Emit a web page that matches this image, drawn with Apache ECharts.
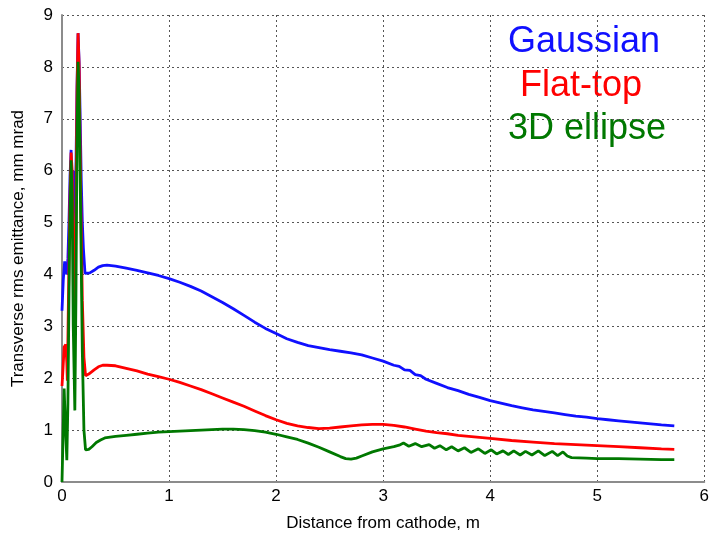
<!DOCTYPE html>
<html>
<head>
<meta charset="utf-8">
<script src="https://cdn.jsdelivr.net/npm/echarts@6/dist/echarts.min.js"></script>
<style>html,body{margin:0;padding:0;background:#fff}#c{width:712px;height:537px}</style>
</head>
<body>
<div id="c"></div>
<script>
var xTicks = [0, 1, 2, 3, 4, 5, 6];
var yTicks = [0, 1, 2, 3, 4, 5, 6, 7, 8, 9];
var seriesNames = ['Gaussian', 'Flat-top', '3D ellipse'];

var gaussian = [
  [0,3.3],[0.012,3.9],[0.025,4.25],[0.035,4.1],[0.045,4.0],[0.055,4.3],[0.065,5.0],[0.075,5.9],[0.085,6.4],
  [0.095,5.6],[0.105,4.8],[0.115,6.0],[0.125,5.2],[0.14,7.6],[0.15,8.65],[0.16,8.1],[0.17,7.0],[0.18,5.8],
  [0.19,5.0],[0.2,4.5],[0.215,4.02],[0.23,4.0],[0.26,4.03],[0.3,4.08],[0.34,4.14],[0.38,4.17],[0.42,4.18],
  [0.5,4.16],[0.6,4.12],[0.7,4.08],[0.8,4.03],[0.9,3.98],[1.0,3.92],[1.1,3.85],[1.2,3.77],[1.3,3.68],[1.4,3.57],
  [1.5,3.46],[1.6,3.34],[1.7,3.21],[1.8,3.08],[1.9,2.96],[2.0,2.86],[2.1,2.76],[2.2,2.69],[2.3,2.63],
  [2.4,2.59],[2.5,2.55],[2.6,2.52],[2.7,2.49],[2.8,2.45],[2.9,2.39],[3.0,2.33],[3.1,2.25],[3.15,2.23],
  [3.2,2.16],[3.25,2.15],[3.3,2.07],[3.35,2.05],[3.4,1.98],[3.5,1.9],[3.6,1.82],[3.7,1.76],[3.8,1.69],
  [3.9,1.63],[4.0,1.57],[4.1,1.52],[4.2,1.47],[4.3,1.43],[4.4,1.39],[4.5,1.36],[4.6,1.33],[4.7,1.3],
  [4.8,1.27],[4.9,1.25],[5.0,1.22],[5.1,1.2],[5.2,1.18],[5.3,1.16],[5.4,1.14],[5.5,1.12],[5.6,1.1],[5.72,1.08]
];

var flatTop = [
  [0,1.85],[0.01,2.2],[0.02,2.6],[0.035,2.65],[0.045,2.3],[0.05,1.95],[0.06,3.5],[0.075,5.5],[0.085,6.35],
  [0.095,6.0],[0.105,4.5],[0.115,2.8],[0.125,4.0],[0.14,7.5],[0.15,8.65],[0.16,8.0],[0.175,5.5],[0.19,3.5],
  [0.205,2.4],[0.22,2.05],[0.25,2.08],[0.3,2.16],[0.34,2.22],[0.38,2.25],[0.42,2.25],[0.5,2.24],[0.6,2.19],
  [0.7,2.14],[0.8,2.08],
  [0.9,2.03],[1.0,1.98],[1.1,1.92],[1.2,1.85],[1.3,1.78],[1.4,1.7],[1.5,1.62],[1.6,1.54],[1.7,1.46],
  [1.8,1.37],[1.9,1.28],[2.0,1.2],[2.1,1.13],[2.2,1.08],[2.3,1.05],[2.4,1.03],[2.5,1.04],[2.6,1.06],
  [2.7,1.08],[2.8,1.1],[2.9,1.11],[3.0,1.11],[3.1,1.09],[3.2,1.06],[3.3,1.02],[3.4,0.98],[3.5,0.95],
  [3.6,0.93],[3.7,0.9],[3.8,0.88],[3.9,0.86],[4.0,0.84],[4.2,0.8],[4.4,0.77],[4.6,0.74],[4.8,0.72],
  [5.0,0.7],[5.2,0.68],[5.4,0.66],[5.6,0.64],[5.72,0.63]
];

var ellipse3D = [
  [0,0],[0.01,0.9],[0.02,1.8],[0.03,1.2],[0.045,0.42],[0.055,1.5],[0.07,4.5],[0.085,6.2],[0.095,5.5],
  [0.105,3.0],[0.12,1.38],[0.13,3.5],[0.14,6.5],[0.15,8.1],[0.16,7.5],[0.175,5.0],[0.19,2.5],[0.205,1.0],
  [0.22,0.62],[0.25,0.63],[0.28,0.68],[0.32,0.76],[0.36,0.81],[0.4,0.85],[0.5,0.88],[0.6,0.9],[0.7,0.92],[0.8,0.94],
  [0.9,0.96],[1.0,0.97],[1.1,0.98],[1.2,0.99],[1.3,1.0],[1.4,1.01],[1.5,1.02],[1.6,1.02],[1.7,1.01],
  [1.8,0.99],[1.9,0.96],[2.0,0.92],[2.1,0.87],[2.2,0.82],[2.3,0.75],[2.4,0.67],[2.5,0.58],[2.6,0.49],
  [2.65,0.45],[2.7,0.44],[2.75,0.46],[2.8,0.5],[2.9,0.58],[3.0,0.64],[3.1,0.68],[3.15,0.71],
  [3.19,0.75],[3.24,0.69],[3.30,0.74],[3.36,0.68],[3.43,0.72],[3.48,0.65],[3.53,0.7],[3.59,0.62],
  [3.64,0.68],[3.70,0.6],[3.76,0.66],[3.82,0.57],[3.89,0.64],[3.95,0.55],[4.01,0.62],[4.06,0.54],
  [4.12,0.6],[4.17,0.53],[4.22,0.6],[4.28,0.52],[4.33,0.59],[4.39,0.52],[4.45,0.6],[4.51,0.51],
  [4.58,0.59],[4.63,0.51],[4.68,0.58],[4.72,0.5],[4.76,0.47],[4.9,0.46],[5.0,0.45],[5.2,0.45],
  [5.4,0.44],[5.6,0.43],[5.72,0.43]
];

var colors = ['#1010ff', '#ff0000', '#007800'];
var FONT = '"Liberation Sans", Arial, sans-serif';

var chart = echarts.init(document.getElementById('c'), null, {renderer: 'canvas'});
var splitStyle = {show: true, lineStyle: {type: [2, 3], color: '#555', width: 1}};
chart.setOption({
  animation: false,
  backgroundColor: '#fff',
  grid: {left: 62, right: 4, top: 15, bottom: 52, containLabel: false},
  xAxis: {
    type: 'value', min: xTicks[0], max: xTicks[xTicks.length - 1], interval: 1,
    name: 'Distance from cathode, m', nameLocation: 'middle', nameGap: 33,
    nameTextStyle: {fontFamily: FONT, fontSize: 17, color: '#000'},
    axisLine: {show: true, lineStyle: {color: '#8c8c8c', width: 2}},
    axisTick: {show: false},
    axisLabel: {fontFamily: FONT, fontSize: 17, color: '#000', margin: 6},
    splitLine: splitStyle
  },
  yAxis: {
    type: 'value', min: yTicks[0], max: yTicks[yTicks.length - 1], interval: 1,
    name: 'Transverse rms emittance, mm mrad', nameLocation: 'middle', nameGap: 35,
    nameTextStyle: {fontFamily: FONT, fontSize: 17, color: '#000'},
    axisLine: {show: true, lineStyle: {color: '#8c8c8c', width: 2}},
    axisTick: {show: false},
    axisLabel: {fontFamily: FONT, fontSize: 17, color: '#000', margin: 9},
    splitLine: splitStyle
  },
  series: [
    {name: seriesNames[0], type: 'line', data: gaussian, showSymbol: false, lineStyle: {color: colors[0], width: 2.8}, z: 2},
    {name: seriesNames[1], type: 'line', data: flatTop, showSymbol: false, lineStyle: {color: colors[1], width: 2.8}, z: 3},
    {name: seriesNames[2], type: 'line', data: ellipse3D, showSymbol: false, lineStyle: {color: colors[2], width: 2.8}, z: 4}
  ],
  graphic: [
    {type: 'text', left: 508, top: 24, style: {text: seriesNames[0], fill: colors[0], font: '36px ' + FONT}},
    {type: 'text', left: 520, top: 68, style: {text: seriesNames[1], fill: colors[1], font: '36px ' + FONT}},
    {type: 'text', left: 508, top: 111, style: {text: seriesNames[2], fill: colors[2], font: '36px ' + FONT}}
  ]
});
</script>
</body>
</html>
